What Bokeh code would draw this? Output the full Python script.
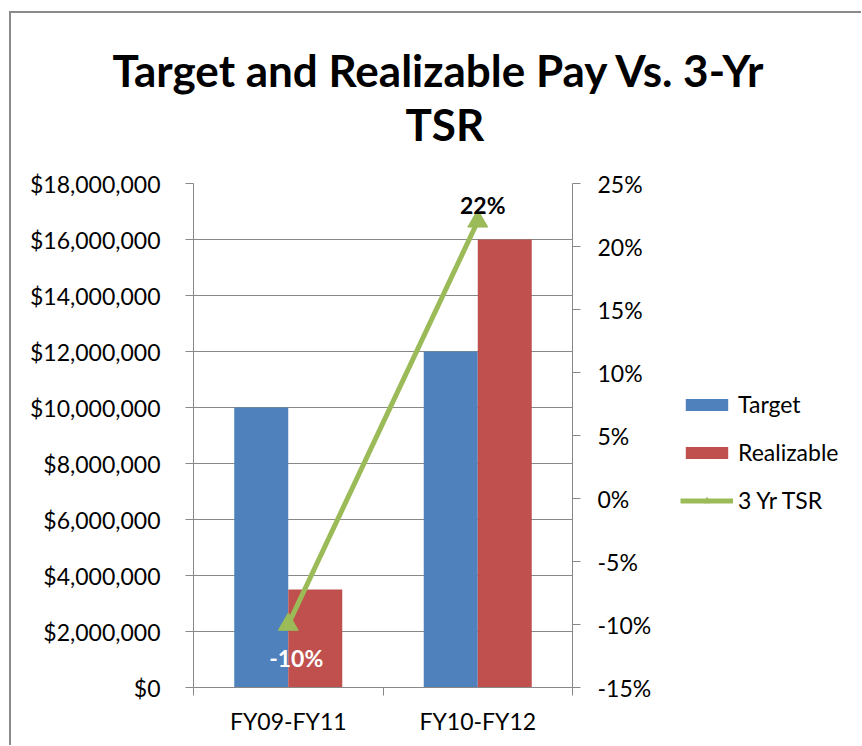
from bokeh.plotting import figure
from bokeh.layouts import column, row
from bokeh.models import (ColumnDataSource, Range1d, LinearAxis,
                          NumeralTickFormatter, FixedTicker, Legend, LegendItem, Title)
from bokeh.transform import dodge
from bokeh.core.properties import value
from bokeh.embed import file_html
from bokeh.resources import INLINE

# ---- data ----
periods = ["FY09-FY11", "FY10-FY12"]
target = [10000000, 12000000]
realizable = [3500000, 16000000]
tsr = [-0.10, 0.22]
tsr_labels = ["-10%", "22%"]
pay_ticks = [0, 2000000, 4000000, 6000000, 8000000, 10000000, 12000000, 14000000, 16000000, 18000000]
tsr_ticks = [-0.15, -0.10, -0.05, 0.0, 0.05, 0.10, 0.15, 0.20, 0.25]
series_names = ["Target", "Realizable", "3 Yr TSR"]
title_line1 = "Target and Realizable Pay Vs. 3-Yr"
title_line2 = "TSR"

FONT = "Lato"
GRAY = "#888888"
BLUE = "#4F81BD"
RED = "#C0504D"
GREEN = "#9BBB59"

n = len(periods)
centers = [i + 0.5 for i in range(n)]          # category centres on a numeric scale
bounds = [float(i) for i in range(n + 1)]       # category boundaries

src = ColumnDataSource(dict(xc=centers, period=periods, target=target, realizable=realizable,
                            tsr=tsr, lbl=tsr_labels,
                            lbl_color=["white", "black"],
                            lbl_dx=[8, 5], lbl_dy=[33, -16]))

# ---------------- title strip ----------------
title_fig = figure(width=850, height=155, output_backend="svg", toolbar_location=None,
                   x_axis_location=None, y_axis_location=None,
                   x_range=Range1d(0, 1), y_range=Range1d(0, 1),
                   min_border_left=0, min_border_right=0, min_border_top=136, min_border_bottom=0,
                   outline_line_color=None, background_fill_color="white", border_fill_color="white")
title_fig.grid.visible = False
title_fig.title.text = ""
t2 = Title(text=title_line2, align="left", offset=394, text_font=FONT, text_font_style="bold",
           text_font_size="44px", text_color="black", standoff=0)
t1 = Title(text=title_line1, align="left", offset=101, text_font=FONT, text_font_style="bold",
           text_font_size="44px", text_color="black", standoff=0)
title_fig.add_layout(t2, "above")
title_fig.add_layout(t1, "above")

# ---------------- main chart ----------------
p = figure(x_range=Range1d(0, n),
           y_range=Range1d(pay_ticks[0], pay_ticks[-1]),
           width=661, height=577, frame_width=379, frame_height=504,
           output_backend="svg", toolbar_location=None,
           x_axis_location=None, y_axis_location="left",
           min_border_left=182, min_border_right=100, min_border_top=15, min_border_bottom=58,
           outline_line_color=None, background_fill_color="white", border_fill_color="white")
p.title.text = ""

p.extra_y_ranges = {"tsr": Range1d(tsr_ticks[0], tsr_ticks[-1])}

bw = 0.285
p.vbar(x=dodge("xc", -bw / 2), top="target", width=bw,
       source=src, fill_color=BLUE, line_color=None)
p.vbar(x=dodge("xc", bw / 2), top="realizable", width=bw,
       source=src, fill_color=RED, line_color=None)
p.line(x="xc", y="tsr", source=src, y_range_name="tsr", line_color=GREEN, line_width=5)
p.scatter(x="xc", y="tsr", source=src, y_range_name="tsr", marker="triangle",
          size=20, fill_color=GREEN, line_color=GREEN)
p.text(x="xc", y="tsr", text="lbl", source=src, y_range_name="tsr",
       x_offset="lbl_dx", y_offset="lbl_dy", text_color="lbl_color",
       text_font=value(FONT), text_font_style="bold", text_font_size="23px",
       text_align="center", text_baseline="middle")

# left axis
ya = p.yaxis[0]
ya.ticker = FixedTicker(ticks=pay_ticks)
ya.formatter = NumeralTickFormatter(format="$0,0")
ya.major_tick_out = 8
ya.major_tick_in = 0
ya.minor_tick_out = 0
ya.minor_tick_in = 0
ya.axis_line_color = GRAY
ya.major_tick_line_color = GRAY
ya.major_label_text_font = FONT
ya.major_label_text_font_size = "23px"
ya.major_label_text_color = "black"
ya.major_label_standoff = 25

# right axis
ra = LinearAxis(y_range_name="tsr", ticker=FixedTicker(ticks=tsr_ticks),
                formatter=NumeralTickFormatter(format="0%"),
                major_tick_out=8, major_tick_in=0, minor_tick_out=0, minor_tick_in=0,
                axis_line_color=GRAY, major_tick_line_color=GRAY,
                major_label_text_font=FONT, major_label_text_font_size="23px",
                major_label_text_color="black", major_label_standoff=17)
p.add_layout(ra, "right")

# bottom axis: labels at category centres, tick marks at category boundaries
xa = LinearAxis(ticker=FixedTicker(ticks=centers, minor_ticks=bounds),
                major_label_overrides={c: lab for c, lab in zip(centers, periods)},
                major_tick_out=0, major_tick_in=0, minor_tick_out=8, minor_tick_in=0,
                axis_line_color=GRAY, minor_tick_line_color=GRAY,
                major_label_text_font=FONT, major_label_text_font_size="23px",
                major_label_text_color="black", major_label_standoff=11)
p.add_layout(xa, "below")

p.xgrid.visible = False
p.ygrid.ticker = FixedTicker(ticks=pay_ticks)
p.ygrid.grid_line_color = GRAY
p.ygrid.grid_line_width = 1

# ---------------- legend panel ----------------
# same series drawn again, but with view ranges that keep the marks out of sight,
# so that only the legend swatches are visible here
legend_fig = figure(width=189, height=577, output_backend="svg", toolbar_location=None,
                    x_axis_location=None, y_axis_location=None,
                    x_range=Range1d(-20, -19), y_range=Range1d(-20, -19), min_border=0,
                    outline_line_color=None, background_fill_color="white", border_fill_color="white")
legend_fig.grid.visible = False
legend_fig.title.text = ""
lr1 = legend_fig.vbar(x="xc", bottom="target", top="target", width=bw, source=src,
                      fill_color=BLUE, line_color=None)
lr2 = legend_fig.vbar(x="xc", bottom="realizable", top="realizable", width=bw, source=src,
                      fill_color=RED, line_color=None)
lrl = legend_fig.line(x="xc", y="tsr", source=src, line_color=GREEN, line_width=5)
lrs = legend_fig.scatter(x="xc", y="tsr", source=src, marker="triangle", size=20,
                         fill_color=GREEN, line_color=GREEN)

legend = Legend(items=[LegendItem(label=series_names[0], renderers=[lr1]),
                       LegendItem(label=series_names[1], renderers=[lr2]),
                       LegendItem(label=series_names[2], renderers=[lrl, lrs])],
                location=(8, 173), padding=0, margin=0, spacing=20,
                glyph_width=53, glyph_height=15, label_height=27, label_standoff=5,
                label_text_font=FONT, label_text_font_size="23px", label_text_color="black",
                border_line_color=None, background_fill_alpha=0)
legend_fig.add_layout(legend)

layout = column(title_fig, row(p, legend_fig),
                styles={"border-left": "2px solid #8a8a8a", "border-top": "2px solid #8a8a8a",
                        "margin-left": "9px", "margin-top": "11px"})

open("out.html", "w").write(file_html(layout, INLINE))
